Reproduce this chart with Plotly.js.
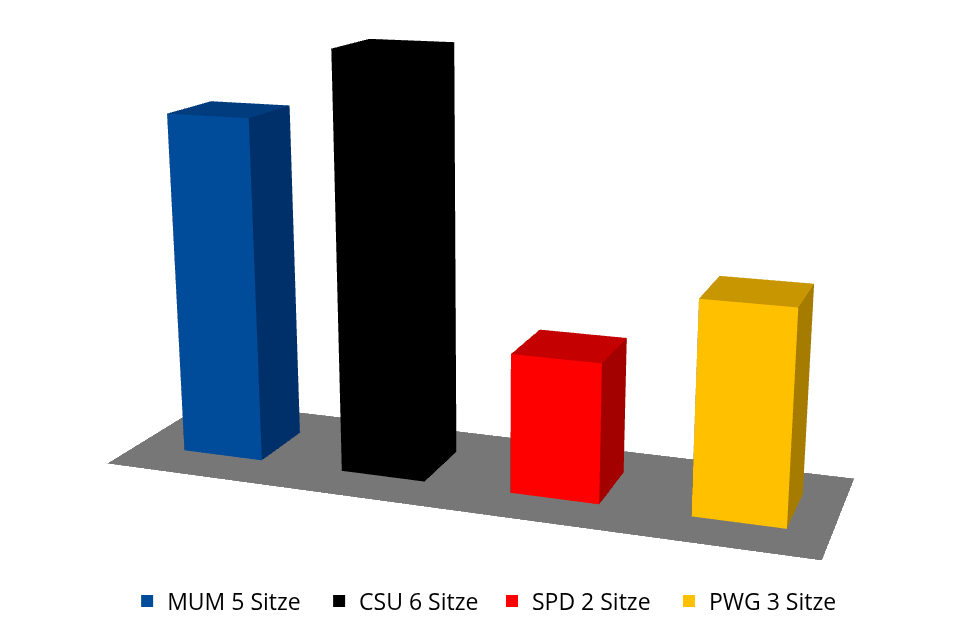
<!DOCTYPE html>
<html><head><meta charset="utf-8">
<script src="https://cdn.plot.ly/plotly-3.0.1.min.js"></script>
<style>
html,body{margin:0;padding:0;overflow:hidden;width:975px;height:629px;background:#fff}
#plot{position:absolute;left:-585px;top:-378px;width:2145px;height:1385px}
</style>
</head><body><div id="plot"></div>
<script>
const parties = ['MUM', 'CSU', 'SPD', 'PWG'];
const seats = [5, 6, 2, 3];
const legendLabels = ['MUM 5 Sitze', 'CSU 6 Sitze', 'SPD 2 Sitze', 'PWG 3 Sitze'];
const frontColors = ['#004C9A', '#000000', '#FF0000', '#FFC000'];
const topColors = ['#003C7E', '#000000', '#C40000', '#C89600'];
const sideColors = ['#00306A', '#000000', '#A30000', '#A57C00'];
const legendColors = ['#004C9A', '#000000', '#FF0000', '#FFC000'];
const floorColor = '#777777';

const halfW = 0.25, halfD = 0.25;
const floorX = [-0.555, 3.48], floorY = [-0.59, 0.59];
const zRange = [-0.02, 6.2];

function barMesh(i) {
  const x0 = i - halfW, x1 = i + halfW, y0 = -halfD, y1 = halfD, z0 = 0, z1 = seats[i];
  const x = [x0, x1, x1, x0, x0, x1, x1, x0];
  const y = [y0, y0, y1, y1, y0, y0, y1, y1];
  const z = [z0, z0, z0, z0, z1, z1, z1, z1];
  const tris = [
    [0, 1, 5, 'f'], [0, 5, 4, 'f'],
    [1, 2, 6, 's'], [1, 6, 5, 's'],
    [4, 5, 6, 't'], [4, 6, 7, 't'],
    [3, 2, 6, 's'], [3, 6, 7, 's'],
    [0, 3, 7, 's'], [0, 7, 4, 's'],
    [0, 1, 2, 's'], [0, 2, 3, 's']
  ];
  const cmap = {f: frontColors[i], s: sideColors[i], t: topColors[i]};
  return {
    type: 'mesh3d', x: x, y: y, z: z,
    i: tris.map(t => t[0]), j: tris.map(t => t[1]), k: tris.map(t => t[2]),
    facecolor: tris.map(t => cmap[t[3]]),
    flatshading: true,
    lighting: {ambient: 1, diffuse: 0, specular: 0, roughness: 1, fresnel: 0},
    hoverinfo: 'skip', showlegend: false, name: parties[i]
  };
}

const floor = {
  type: 'mesh3d',
  x: [floorX[0], floorX[1], floorX[1], floorX[0]],
  y: [floorY[0], floorY[0], floorY[1], floorY[1]],
  z: [0, 0, 0, 0],
  i: [0, 0], j: [1, 2], k: [2, 3],
  facecolor: [floorColor, floorColor],
  flatshading: true,
  lighting: {ambient: 1, diffuse: 0, specular: 0, roughness: 1, fresnel: 0},
  hoverinfo: 'skip', showlegend: false
};

const legendIds = ['legend', 'legend2', 'legend3', 'legend4'];
const legendX = [0.3320, 0.4215, 0.5021, 0.5846];

const traces = [floor];
for (let i = 0; i < seats.length; i++) traces.push(barMesh(i));
for (let i = 0; i < seats.length; i++) {
  traces.push({
    type: 'scatter', x: [null], y: [null], mode: 'markers',
    marker: {symbol: 'square', size: 12, color: legendColors[i]},
    name: legendLabels[i], showlegend: true, hoverinfo: 'skip',
    legend: legendIds[i]
  });
}

const layout = {
  width: 2145, height: 1385,
  margin: {l: 0, r: 0, t: 0, b: 0},
  paper_bgcolor: '#ffffff', plot_bgcolor: 'rgba(0,0,0,0)',
  xaxis: {visible: false}, yaxis: {visible: false},
  showlegend: true,
  scene: {
    domain: {x: [0, 1], y: [0, 1]},
    bgcolor: 'rgba(0,0,0,0)',
    aspectmode: 'manual',
    aspectratio: {x: 1.0088, y: 0.295, z: 0.611},
    xaxis: {range: floorX, visible: false},
    yaxis: {range: floorY, visible: false},
    zaxis: {range: zRange, visible: false},
    camera: {
      eye: {x: 0.7506, y: -2.0718, z: 0.5355},
      center: {x: 0.0168, y: 0, z: -0.074},
      up: {x: 0, y: 0, z: 1},
      projection: {type: 'perspective'}
    },
    dragmode: false
  }
};
legendIds.forEach(function (id, i) {
  layout[id] = {
    orientation: 'h', x: legendX[i], xanchor: 'left', y: 0.2931, yanchor: 'middle',
    font: {family: 'Open Sans, sans-serif', size: 23, color: '#000000'},
    bgcolor: 'rgba(0,0,0,0)'
  };
});

Plotly.newPlot('plot', traces, layout, {displayModeBar: false, plotGlPixelRatio: 1});
</script>
</body></html>
